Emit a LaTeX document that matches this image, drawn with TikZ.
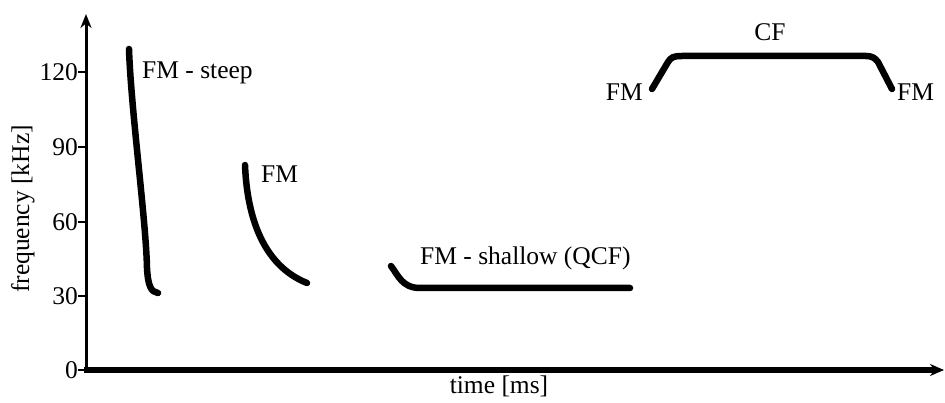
\documentclass[tikz,border=0pt]{standalone}
\usepackage{fontspec}
\setmainfont{Liberation Serif}
\usetikzlibrary{arrows.meta}
\begin{document}
\begin{tikzpicture}[x=1pt,y=-1pt,
  lbl/.style={font=\fontsize{25.5}{29}\selectfont, text=black, inner sep=0pt},
  callcurve/.style={line width=6.5pt, line cap=round, line join=round},
  tickmark/.style={line width=1.5pt}]
\useasboundingbox (0,0) rectangle (945,403);
% axes
\coordinate (O) at (86,370);
\coordinate (ytip) at (86,14);
\coordinate (xtip) at (944,370);
\draw[line width=3pt, -{Stealth[length=14pt,width=11pt]}] (86,372) -- (ytip);
\draw[line width=5.5pt, -{Stealth[length=14pt,width=12pt]}] (84,370) -- (xtip);
% ticks and labels
\foreach \v/\yy in {0/370,30/296,60/222,90/147,120/72}{
  \coordinate (t\v) at (78,\yy);
  \draw[tickmark] (t\v) -- (86,\yy);
  \node[lbl, anchor=east] (n\v) at (t\v) {\v};
}
\node[lbl, rotate=90] (ylab) at (23,209) {frequency [kHz]};
\node[lbl] (xlab) at (499,386) {time [ms]};
% calls
\draw[callcurve] (129,49) .. controls (131,110) and (146,220) .. (147,268) .. controls (148,286) and (151,292) .. (158,293);
\draw[callcurve] (245,165) .. controls (247,215) and (262,265) .. (307,283);
\draw[callcurve] (391,266) .. controls (398,275) and (402,288) .. (420,288) -- (630,288);
\draw[callcurve] (652,89) -- (668,62) .. controls (671,57) and (674,56) .. (682,56) -- (866,56) .. controls (872,56) and (875,58) .. (878,62) -- (892,89);
% labels
\node[lbl, anchor=west] (steep) at (142,73) {FM - steep};
\node[lbl, anchor=west] (fm2) at (261,174) {FM};
\node[lbl, anchor=west] (qcf) at (420,258) {FM - shallow (QCF)};
\node[lbl] (cf) at (770,32) {CF};
\node[lbl, anchor=east] (fml) at (643,92) {FM};
\node[lbl, anchor=west] (fmr) at (897,92) {FM};
\end{tikzpicture}
\end{document}
